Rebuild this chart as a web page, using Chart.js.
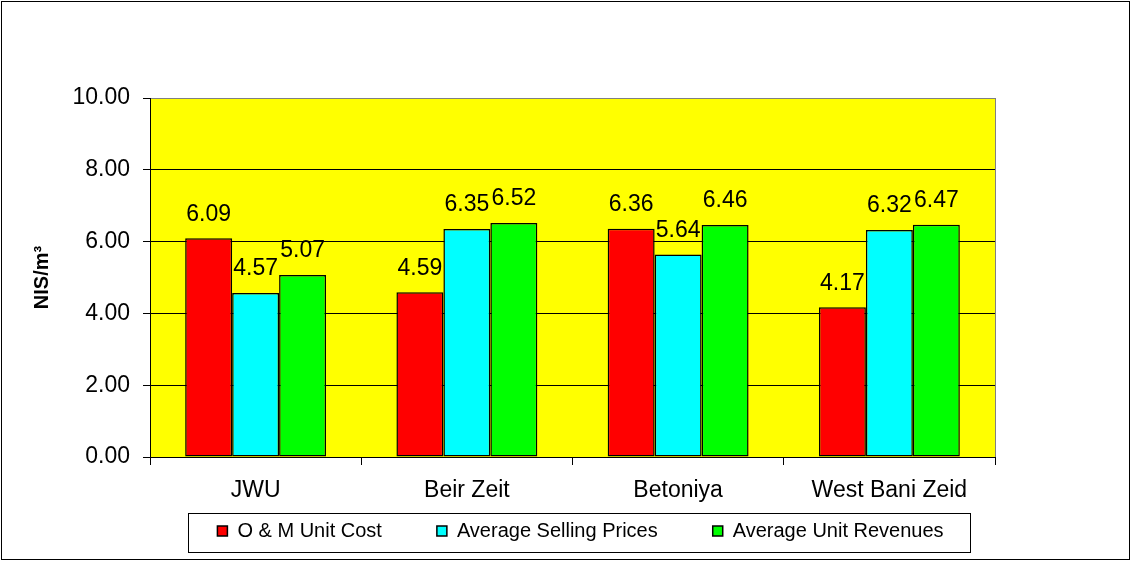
<!DOCTYPE html>
<html>
<head>
<meta charset="utf-8">
<script src="https://cdn.jsdelivr.net/npm/chart.js@4.4.0/dist/chart.umd.min.js"></script>
<style>
  html, body { margin: 0; padding: 0; background: #fff; }
  #wrap { width: 1131px; height: 561px; }
</style>
</head>
<body>
<div id="wrap"><canvas id="chart" width="1131" height="561"></canvas></div>
<script>
const categories = ['JWU', 'Beir Zeit', 'Betoniya', 'West Bani Zeid'];
const omUnitCost = [6.09, 4.59, 6.36, 4.17];
const avgSellingPrices = [4.57, 6.35, 5.64, 6.32];
const avgUnitRevenues = [5.07, 6.52, 6.46, 6.47];
const yMin = 0, yMax = 10, yStep = 2;

const FONT = 'Arial, "Liberation Sans", sans-serif';

// yellow plot area, grey frame, outer border and legend box
const frame = {
  id: 'frame',
  beforeDraw(chart) {
    const { ctx, chartArea: a } = chart;
    ctx.save();
    ctx.fillStyle = '#fff';
    ctx.fillRect(0, 0, chart.width, chart.height);
    ctx.fillStyle = '#FFFF00';
    ctx.fillRect(a.left, a.top, a.right - a.left, a.bottom - a.top);
    ctx.restore();
  },
  afterDraw(chart) {
    const { ctx, chartArea: a } = chart;
    ctx.save();
    ctx.strokeStyle = '#808080';
    ctx.lineWidth = 1;
    ctx.beginPath();
    ctx.moveTo(Math.round(a.right) + 0.5, a.top);
    ctx.lineTo(Math.round(a.right) + 0.5, a.bottom);
    ctx.stroke();

    ctx.strokeStyle = '#000';
    ctx.strokeRect(1.5, 1.5, chart.width - 3, chart.height - 3);

    const hb = chart.legend.legendHitBoxes;
    if (hb && hb.length) {
      const first = hb[0], last = hb[hb.length - 1];
      const left = Math.round(first.left - 29);
      const right = Math.round(last.left + last.width + 26);
      const cy = Math.round(first.top + first.height / 2);
      ctx.strokeRect(left + 0.5, cy - 17.5, right - left, 39);
    }
    ctx.restore();
  }
};

const barLabels = {
  id: 'barLabels',
  afterDatasetsDraw(chart) {
    const ctx = chart.ctx;
    ctx.save();
    ctx.font = '23px ' + FONT;
    ctx.fillStyle = '#000';
    ctx.textAlign = 'center';
    ctx.textBaseline = 'middle';
    chart.data.datasets.forEach((ds, i) => {
      chart.getDatasetMeta(i).data.forEach((bar, j) => {
        ctx.fillText(ds.data[j].toFixed(2), bar.x, bar.y - 24);
      });
    });
    ctx.restore();
  }
};

new Chart(document.getElementById('chart'), {
  type: 'bar',
  data: {
    labels: categories,
    datasets: [
      { label: 'O & M Unit Cost', data: omUnitCost, backgroundColor: '#FF0000' },
      { label: 'Average Selling Prices', data: avgSellingPrices, backgroundColor: '#00FFFF' },
      { label: 'Average Unit Revenues', data: avgUnitRevenues, backgroundColor: '#00FF00' }
    ].map(d => Object.assign(d, { borderColor: '#000', borderWidth: 1.5, borderSkipped: false,
      categoryPercentage: 0.667, barPercentage: 1 }))
  },
  options: {
    responsive: false,
    animation: false,
    devicePixelRatio: 1,
    layout: { padding: { top: 98, bottom: 10, left: 30, right: 0 } },
    plugins: {
      tooltip: { enabled: false },
      legend: {
        position: 'bottom',
        labels: { boxWidth: 10, boxHeight: 10, padding: 55, color: '#000', font: { family: FONT, size: 20 } }
      }
    },
    scales: {
      x: {
        grid: { drawOnChartArea: false, offset: true, tickLength: 8, color: '#000' },
        border: { color: '#000' },
        // mirrored so the labels are not clipped to the thin axis box
        ticks: { mirror: true, padding: -47, color: '#000', font: { family: FONT, size: 23 } },
        afterFit: s => { s.height = 9; }
      },
      y: {
        min: yMin, max: yMax,
        grid: { color: c => (c.tick && c.tick.value === yMax ? '#808080' : '#000'), tickColor: '#000', tickLength: 7 },
        border: { color: '#000' },
        ticks: { stepSize: yStep, padding: 13, color: '#000', font: { family: FONT, size: 23 },
          callback: v => v.toFixed(2) },
        title: { display: true, text: 'NIS/m³', color: '#000', padding: { top: 0, bottom: 0 },
          font: { family: FONT, size: 20, weight: 'bold' } },
        afterFit: s => { s.width = 120; }
      },
      y2: {
        position: 'right',
        grid: { display: false },
        border: { display: false },
        ticks: { display: false },
        afterFit: s => { s.width = 136; }
      }
    }
  },
  plugins: [frame, barLabels]
});
</script>
</body>
</html>
